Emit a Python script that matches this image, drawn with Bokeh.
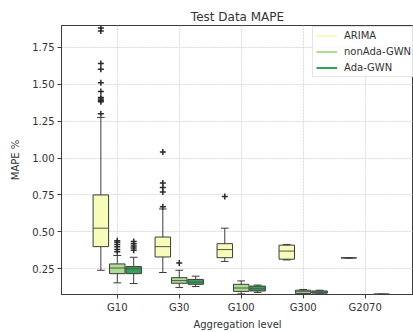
from bokeh.plotting import figure
from bokeh.models import Range1d, FixedTicker, Legend, LegendItem, PrintfTickFormatter
from bokeh.embed import file_html
from bokeh.resources import INLINE

groups = ["G10", "G30", "G100", "G300", "G2070"]
models = ["ARIMA", "nonAda-GWN", "Ada-GWN"]
colors = ["#f7fcb9", "#addd8e", "#31a354"]
offsets = [-0.265, 0.0, 0.265]

arima_q1 = [0.40, 0.33, 0.325, 0.315, 0.324]
arima_med = [0.525, 0.40, 0.38, 0.37, 0.324]
arima_q3 = [0.75, 0.465, 0.42, 0.41, 0.324]
arima_lo = [0.24, 0.225, 0.30, 0.31, 0.324]
arima_hi = [1.275, 0.655, 0.525, 0.415, 0.324]
arima_out = [[1.30, 1.38, 1.39, 1.40, 1.41, 1.45, 1.51, 1.60, 1.64, 1.86, 1.88],
             [0.67, 0.77, 0.80, 0.83, 1.04], [0.74], [], []]

nonada_q1 = [0.217, 0.152, 0.097, 0.082, 0.074]
nonada_med = [0.255, 0.17, 0.12, 0.095, 0.074]
nonada_q3 = [0.283, 0.19, 0.145, 0.105, 0.074]
nonada_lo = [0.155, 0.123, 0.08, 0.078, 0.074]
nonada_hi = [0.34, 0.24, 0.168, 0.11, 0.074]
nonada_out = [[0.365, 0.38, 0.40, 0.415, 0.43, 0.44], [0.29], [], [], []]

ada_q1 = [0.217, 0.145, 0.10, 0.085, 0.078]
ada_med = [0.25, 0.16, 0.115, 0.093, 0.078]
ada_q3 = [0.265, 0.178, 0.133, 0.10, 0.078]
ada_lo = [0.15, 0.13, 0.09, 0.08, 0.078]
ada_hi = [0.328, 0.20, 0.14, 0.105, 0.078]
ada_out = [[0.375, 0.39, 0.405, 0.42, 0.435], [], [], [], []]

yticks = [0.25, 0.50, 0.75, 1.00, 1.25, 1.50, 1.75]

stats = [
    (arima_q1, arima_med, arima_q3, arima_lo, arima_hi, arima_out),
    (nonada_q1, nonada_med, nonada_q3, nonada_lo, nonada_hi, nonada_out),
    (ada_q1, ada_med, ada_q3, ada_lo, ada_hi, ada_out),
]

FONT = "DejaVu Sans"
TXT = "#333333"
EDGE = "#3c3c3c"

p = figure(width=413, height=332, output_backend="svg", toolbar_location=None,
           x_range=Range1d(0.10, 5.78), y_range=Range1d(0.076, 1.897),
           title="Test Data MAPE")
p.min_border_left = 61
p.min_border_right = 0
p.min_border_top = 25
p.min_border_bottom = 35
p.title.align = "center"
p.title.text_font = FONT
p.title.text_font_size = "12px"
p.title.text_font_style = "normal"
p.title.text_color = TXT
p.title.standoff = 4

p.outline_line_color = EDGE
p.outline_line_width = 1

p.xaxis.ticker = FixedTicker(ticks=list(range(1, len(groups) + 1)))
p.xaxis.major_label_overrides = {i + 1: g for i, g in enumerate(groups)}
p.yaxis.ticker = FixedTicker(ticks=yticks)
p.yaxis.formatter = PrintfTickFormatter(format="%.2f")
p.xaxis.axis_label = "Aggregation level"
p.yaxis.axis_label = "MAPE %"
for ax in (p.xaxis, p.yaxis):
    ax.axis_label_text_font = FONT
    ax.axis_label_text_font_size = "10px"
    ax.axis_label_text_font_style = "normal"
    ax.axis_label_text_color = TXT
    ax.major_label_text_font = FONT
    ax.major_label_text_font_size = "10px"
    ax.major_label_text_color = TXT
    ax.axis_line_color = EDGE
    ax.major_tick_line_color = EDGE
    ax.major_tick_out = 4
    ax.major_tick_in = 0
    ax.minor_tick_line_color = None
    ax.major_label_standoff = 3
    ax.axis_label_standoff = 3
p.yaxis.axis_label_standoff = 8

p.grid.grid_line_color = "#dadada"
p.grid.grid_line_dash = "2 1"
p.grid.grid_line_width = 1

box_w = 0.25
legend_items = []
for m, (q1, med, q3, lo, hi, outs) in enumerate(stats):
    xs = [i + 1 + offsets[m] for i in range(len(groups))]
    p.quad(left=[x - box_w / 2 for x in xs], right=[x + box_w / 2 for x in xs],
           bottom=q1, top=q3, fill_color=colors[m], line_color=EDGE, line_width=1)
    p.segment(x0=[x - box_w / 2 for x in xs], x1=[x + box_w / 2 for x in xs],
              y0=med, y1=med, line_color="#555555", line_width=1)
    p.segment(x0=xs, x1=xs, y0=q3, y1=hi, line_color=EDGE, line_width=1)
    p.segment(x0=xs, x1=xs, y0=q1, y1=lo, line_color=EDGE, line_width=1)
    p.segment(x0=[x - box_w / 4 for x in xs], x1=[x + box_w / 4 for x in xs],
              y0=hi, y1=hi, line_color=EDGE, line_width=1)
    p.segment(x0=[x - box_w / 4 for x in xs], x1=[x + box_w / 4 for x in xs],
              y0=lo, y1=lo, line_color=EDGE, line_width=1)
    ox, oy = [], []
    for i, lst in enumerate(outs):
        for v in lst:
            ox.append(xs[i])
            oy.append(v)
    p.scatter(x=ox, y=oy, marker="cross", size=6, line_width=1.5, line_color="#2a2a2a")
    r = p.line(x=[float("nan")], y=[float("nan")], line_color=colors[m], line_width=2)
    legend_items.append(LegendItem(label=models[m], renderers=[r]))

legend = Legend(items=legend_items, location=(251, 217))
legend.label_text_font = FONT
legend.label_text_font_size = "10px"
legend.label_text_color = TXT
legend.glyph_width = 21
legend.glyph_height = 11
legend.label_height = 11
legend.label_standoff = 7
legend.spacing = 5
legend.padding = 3
legend.margin = 0
legend.border_line_color = "#cccccc"
legend.background_fill_alpha = 0.85
p.add_layout(legend)

open("out.html", "w").write(file_html(p, INLINE))
